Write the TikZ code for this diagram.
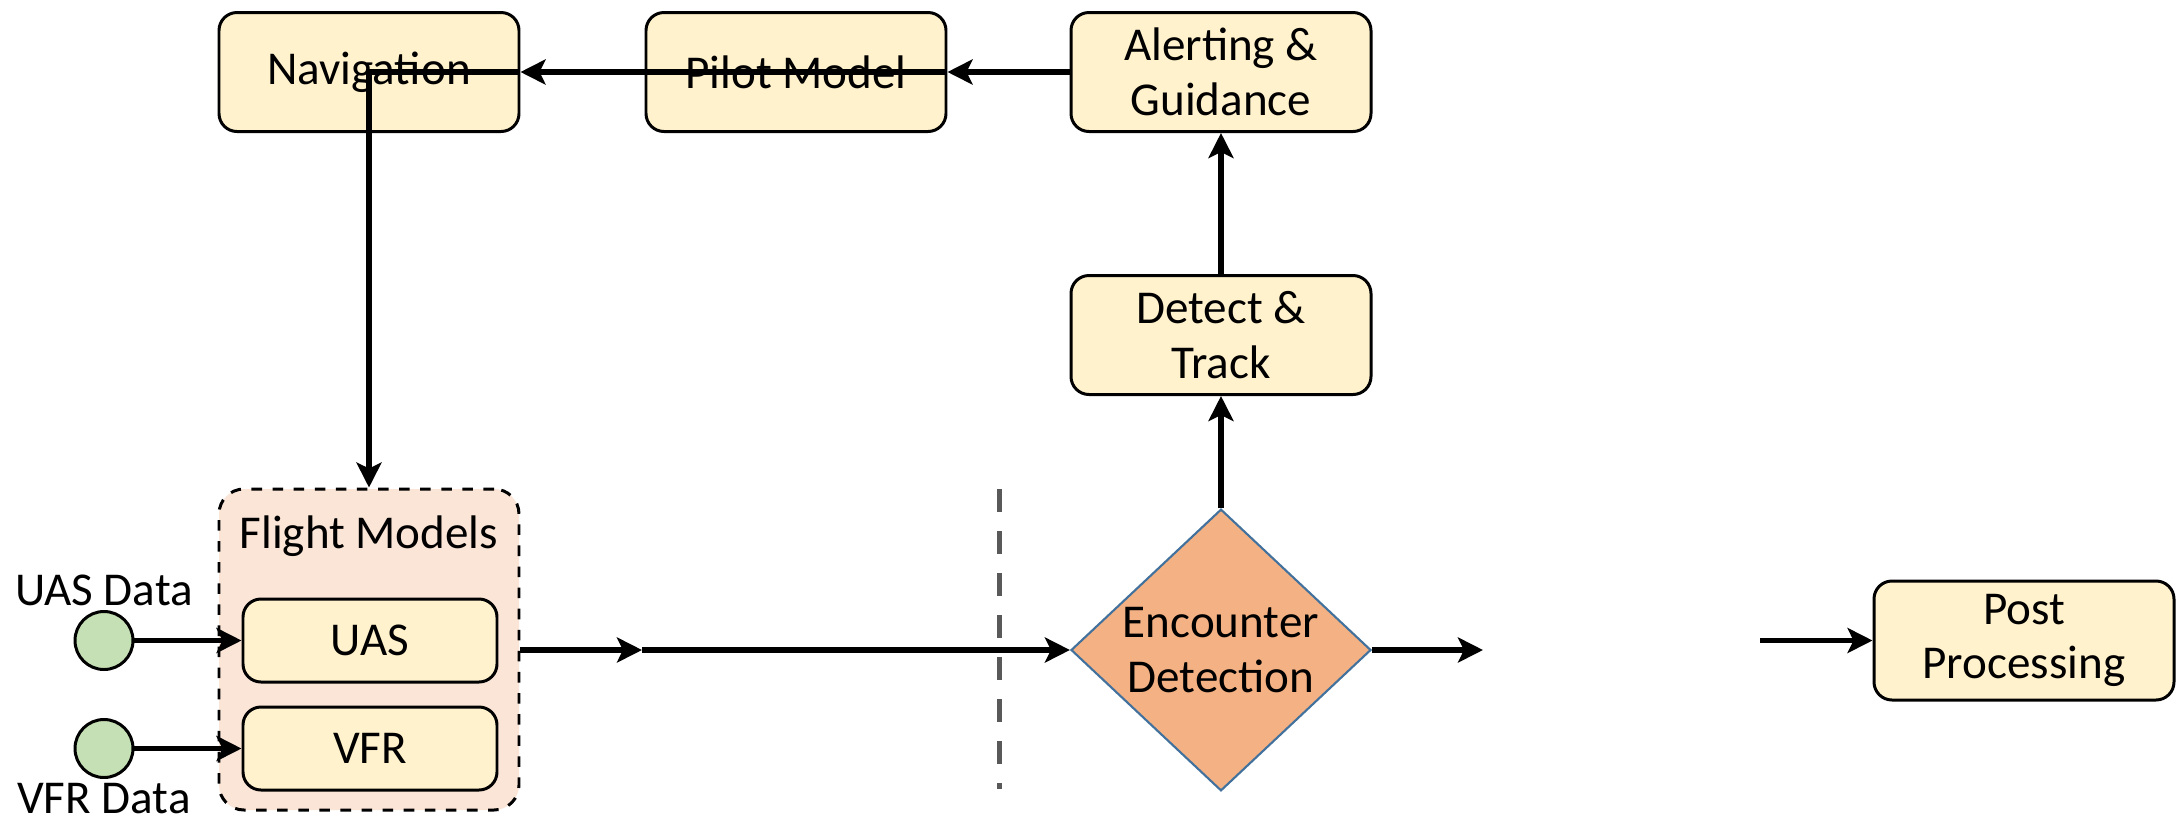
\documentclass[tikz,border=0pt]{standalone}
\usepackage{fontspec}
\setmainfont{Carlito}
\usetikzlibrary{shapes.geometric,arrows.meta}
\definecolor{boxfill}{HTML}{FFF2CC}
\definecolor{fmfill}{HTML}{FBE5D6}
\definecolor{greenfill}{HTML}{C5E0B4}
\definecolor{encfill}{HTML}{F4B183}
\definecolor{encdraw}{HTML}{41719C}
\definecolor{dashgray}{HTML}{595959}
\tikzset{
  box/.style={draw=black, line width=0.85pt, fill=boxfill, rounded corners=0.18cm,
    minimum width=3.0cm, minimum height=1.19cm, align=center, inner sep=0pt,
    font=\fontsize{13.4}{15.6}\selectfont},
  smallbox/.style={box, minimum width=2.54cm, minimum height=0.83cm},
  fmbox/.style={draw=black, dashed, line width=0.85pt, fill=fmfill, rounded corners=0.25cm,
    minimum width=3.0cm, minimum height=3.21cm, inner sep=0pt},
  src/.style={circle, draw=black, line width=0.85pt, fill=greenfill, minimum size=0.58cm, inner sep=0pt},
  lbl/.style={font=\fontsize{13.4}{15.6}\selectfont, inner sep=0pt},
  enc/.style={diamond, draw=encdraw, line width=0.6pt, fill=encfill, minimum width=3.0cm,
    minimum height=2.78cm, inner sep=0pt, align=center, font=\fontsize{13.4}{15.6}\selectfont},
  arr/.style={line width=1.45pt, -{Stealth[length=0.25cm, width=0.25cm, inset=0.06cm]}},
  sepline/.style={dashgray, line width=0.05cm, dash pattern=on 0.23cm off 0.19cm}
}
\begin{document}
\begin{tikzpicture}
\useasboundingbox (0,0) rectangle (21.78,-8.22);
% top row
\node[box] (nav) at (3.69,-0.72) {Navigation};
\node[box] (pilot) at (7.96,-0.72) {Pilot Model};
\node[box] (alert) at (12.21,-0.72) {Alerting \&\\Guidance};
\node[box] (detect) at (12.21,-3.35) {Detect \&\\Track};
% flight models
\node[fmbox] (fm) at (3.69,-6.495) {};
\node[lbl] (fmlbl) at (3.69,-5.36) {Flight Models};
\node[smallbox] (uas) at (3.70,-6.405) {UAS};
\node[smallbox] (vfr) at (3.70,-7.485) {VFR};
\node[src] (c1) at (1.04,-6.405) {};
\node[src] (c2) at (1.04,-7.485) {};
\node[lbl] (uasl) at (1.04,-5.90) {UAS Data};
\node[lbl, anchor=base] (vfrl) at (1.04,-8.13) {VFR Data};
% separator
\coordinate (s1) at (9.99,-4.89);
\coordinate (s2) at (9.99,-7.89);
\draw[sepline] (s1) -- (s2);
% encounter detection
\node[enc] (encd) at (12.21,-6.50) {Encounter\\Detection};
\node[box] (post) at (20.24,-6.405) {Post\\Processing};
\coordinate (m) at (6.42,-6.50);
\coordinate (o1) at (14.83,-6.50);
\coordinate (o2) at (17.60,-6.405);
% connectors
\draw[arr] (c1) -- (uas.west);
\draw[arr] (c2) -- (vfr.west);
\draw[arr] (fm.east |- m) -- (m);
\draw[arr] (m) -- (encd.west);
\draw[arr] (encd.east) -- (o1);
\draw[arr] (o2) -- (post.west);
\draw[arr] (encd.north) -- (detect.south);
\draw[arr] (detect.north) -- (alert.south);
\draw[arr] (alert.west) -- (pilot.east);
\draw[arr] (pilot.east) -- (nav.east);
\draw[arr] (nav.east) -| (fm.north);
\end{tikzpicture}
\end{document}
